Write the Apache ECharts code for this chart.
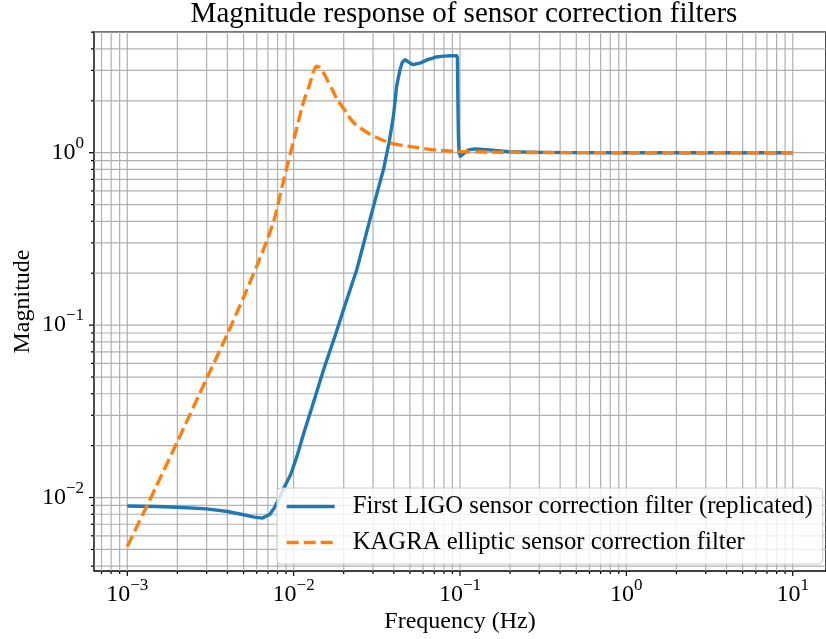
<!DOCTYPE html>
<html>
<head>
<meta charset="utf-8">
<script src="https://cdn.jsdelivr.net/npm/echarts@6/dist/echarts.min.js"></script>
<style>
  html, body { margin: 0; padding: 0; background: #ffffff; }
  #chart { width: 826px; height: 639px; }
</style>
</head>
<body>
<div id="chart"></div>
<script>
// First LIGO sensor correction filter (replicated): frequency (Hz) and magnitude
const ligoFreq = [
  0.001, 0.0015, 0.002, 0.003, 0.004, 0.005, 0.0058, 0.0065, 0.0072, 0.0077,
  0.0082, 0.0088, 0.0096, 0.0105, 0.0115, 0.013, 0.0152, 0.018, 0.020, 0.024,
  0.0288, 0.0331, 0.0347, 0.0375, 0.0398, 0.0416, 0.0436, 0.045, 0.0467, 0.049,
  0.0522, 0.058, 0.0635, 0.0687, 0.0719, 0.08, 0.088, 0.0955, 0.0965, 0.097,
  0.0978, 0.0988, 0.1005, 0.1028, 0.107, 0.112, 0.119, 0.1245, 0.15, 0.196,
  0.3, 0.5, 1, 2, 5, 10
];
const ligoMag = [
  0.00894, 0.00888, 0.00879, 0.0086, 0.0083, 0.00795, 0.0077, 0.0076, 0.0080, 0.0088,
  0.0100, 0.0115, 0.0136, 0.0175, 0.0236, 0.0343, 0.0559, 0.0904, 0.124, 0.211,
  0.412, 0.68, 0.80, 1.15, 1.63, 2.43, 3.03, 3.35, 3.46, 3.36,
  3.24, 3.32, 3.46, 3.54, 3.59, 3.63, 3.65, 3.65, 3.55, 2.2,
  1.25, 1.0, 0.955, 0.955, 1.0, 1.035, 1.048, 1.052, 1.038, 1.013,
  1.004, 1.001, 1.0, 1.0, 1.0, 1.0
];

// KAGRA elliptic sensor correction filter: frequency (Hz) and magnitude
const kagraFreq = [
  0.001, 0.0015, 0.002, 0.003, 0.004, 0.005, 0.006, 0.007, 0.0077, 0.0085,
  0.0093, 0.0099, 0.0105, 0.0112, 0.0118, 0.0125, 0.0131, 0.0137, 0.0143, 0.015,
  0.0159, 0.017, 0.0183, 0.020, 0.023, 0.0288, 0.038, 0.052, 0.072, 0.1,
  0.15, 0.2, 0.3, 0.5, 1, 2, 5, 10
];
const kagraMag = [
  0.0052, 0.0117, 0.0211, 0.049, 0.0889, 0.145, 0.22, 0.32, 0.42, 0.63,
  0.89, 1.135, 1.42, 1.82, 2.14, 2.50, 2.92, 3.17, 3.12, 2.95,
  2.65, 2.34, 2.03, 1.80, 1.49, 1.28, 1.14, 1.08, 1.035, 1.016,
  1.008, 1.005, 1.002, 1.001, 1.0, 1.0, 1.0, 1.0
];

// Decade exponents that carry a "10^n" tick label
const xTickPowers = [-3, -2, -1, 0, 1];
const yTickPowers = [-2, -1, 0];

const seriesNames = [
  'First LIGO sensor correction filter (replicated)',
  'KAGRA elliptic sensor correction filter'
];

const FONT = '"Liberation Serif", "DejaVu Serif", serif';
const GRID_COLOR = '#b0b0b0';
const LINE_W = 3.4;
const X_MIN = Math.pow(10, -3.2), X_MAX = Math.pow(10, 1.2);
const Y_MIN = Math.pow(10, -2.426), Y_MAX = Math.pow(10, 0.70);

// Log-axis grid positions: 1..9 x 10^k inside [lo, hi]
function logGrid(lo, hi, labelled) {
  const out = [];
  const k0 = Math.floor(Math.log10(lo)), k1 = Math.ceil(Math.log10(hi));
  for (let k = k0; k <= k1; k++) {
    for (let m = 1; m <= 9; m++) {
      const v = m * Math.pow(10, k);
      if (v > lo * 1.0001 && v < hi * 0.9999) {
        const lab = m === 1 && labelled.indexOf(k) >= 0;
        out.push({ v: v, major: m === 1, label: lab, exp: k });
      }
    }
  }
  return out;
}
const xGrid = logGrid(X_MIN, X_MAX, xTickPowers);
const yGrid = logGrid(Y_MIN, Y_MAX, yTickPowers);

function powText(e) {
  return '{b|10}{s|' + (e < 0 ? '\u2212' + (-e) : String(e)) + '}';
}
const powRich = {
  b: { fontFamily: FONT, fontSize: 24, lineHeight: 30, verticalAlign: 'bottom', fill: '#000' },
  s: { fontFamily: FONT, fontSize: 17, lineHeight: 17, verticalAlign: 'top', fill: '#000' }
};

function toPairs(xs, ys) { return xs.map((x, i) => [x, ys[i]]); }

const chart = echarts.init(document.getElementById('chart'), null, { renderer: 'canvas' });

chart.setOption({
  animation: false,
  backgroundColor: '#ffffff',
  title: {
    text: 'Magnitude response of sensor correction filters',
    left: 464, top: 0, padding: 0, textAlign: 'center',
    textStyle: { fontFamily: FONT, fontSize: 29, fontWeight: 'normal', color: '#000' }
  },
  grid: {
    left: 94, right: -9, top: 32, bottom: 66,
    show: true, borderColor: '#000', borderWidth: 1.4, backgroundColor: 'transparent'
  },
  legend: {
    orient: 'vertical', left: 277, top: 488,
    padding: [6, 10, 9, 8], itemGap: 11, itemWidth: 48, itemHeight: 14,
    backgroundColor: 'rgba(255,255,255,0.8)', borderColor: '#cccccc', borderWidth: 1, borderRadius: 4,
    itemStyle: { color: 'rgba(0,0,0,0)', borderColor: 'rgba(0,0,0,0)', borderWidth: 0 },
    lineStyle: { width: LINE_W },
    textStyle: { fontFamily: FONT, fontSize: 24.7, color: '#000', padding: [0, 0, 0, 13] },
    data: seriesNames
  },
  xAxis: {
    type: 'log', min: X_MIN, max: X_MAX,
    name: 'Frequency (Hz)', nameLocation: 'middle', nameGap: 39,
    nameTextStyle: { fontFamily: FONT, fontSize: 24, color: '#000' },
    axisLine: { show: false }, axisTick: { show: false },
    axisLabel: { show: false }, splitLine: { show: false }
  },
  yAxis: {
    type: 'log', min: Y_MIN, max: Y_MAX,
    name: 'Magnitude', nameLocation: 'middle', nameGap: 59, nameRotate: 90,
    nameTextStyle: { fontFamily: FONT, fontSize: 24, color: '#000' },
    axisLine: { show: false }, axisTick: { show: false },
    axisLabel: { show: false }, splitLine: { show: false }
  },
  series: [
    {
      // vertical grid lines, bottom ticks and frequency labels
      type: 'custom', silent: true, clip: false, z: 1,
      data: xGrid.map(g => [g.v, Y_MIN, g.major ? 1 : 0, g.label ? 1 : 0, g.exp]),
      encode: { x: 0, y: 1 },
      renderItem: function (params, api) {
        const v = api.value(0), major = api.value(2), lab = api.value(3);
        const b = api.coord([v, Y_MIN]), t = api.coord([v, Y_MAX]);
        const children = [
          { type: 'line', shape: { x1: b[0], y1: b[1], x2: t[0], y2: t[1] },
            style: { stroke: GRID_COLOR, lineWidth: 1.2 } },
          { type: 'line', shape: { x1: b[0], y1: b[1], x2: b[0], y2: b[1] + (major ? 5 : 3) },
            style: { stroke: '#000', lineWidth: 1.2 } }
        ];
        if (lab) {
          children.push({ type: 'text', x: b[0], y: b[1] + 6,
            style: { text: powText(api.value(4)), rich: powRich, align: 'center', verticalAlign: 'top',
              fontFamily: FONT, fontSize: 24, fill: '#000' } });
        }
        return { type: 'group', children: children };
      }
    },
    {
      // horizontal grid lines, left ticks and magnitude labels
      type: 'custom', silent: true, clip: false, z: 1,
      data: yGrid.map(g => [X_MIN, g.v, g.major ? 1 : 0, g.label ? 1 : 0, g.exp]),
      encode: { x: 0, y: 1 },
      renderItem: function (params, api) {
        const v = api.value(1), major = api.value(2), lab = api.value(3);
        const l = api.coord([X_MIN, v]), r = api.coord([X_MAX, v]);
        const children = [
          { type: 'line', shape: { x1: l[0], y1: l[1], x2: r[0], y2: r[1] },
            style: { stroke: GRID_COLOR, lineWidth: 1.2 } },
          { type: 'line', shape: { x1: l[0], y1: l[1], x2: l[0] - (major ? 5 : 3), y2: l[1] },
            style: { stroke: '#000', lineWidth: 1.2 } }
        ];
        if (lab) {
          children.push({ type: 'text', x: l[0] - 10, y: l[1] - 3,
            style: { text: powText(api.value(4)), rich: powRich, align: 'right', verticalAlign: 'middle',
              fontFamily: FONT, fontSize: 24, fill: '#000' } });
        }
        return { type: 'group', children: children };
      }
    },
    {
      name: seriesNames[0], type: 'line', z: 3,
      data: toPairs(ligoFreq, ligoMag),
      symbol: 'none', showSymbol: false,
      lineStyle: { color: '#1f77b4', width: LINE_W, join: 'round' },
      itemStyle: { color: '#1f77b4' }
    },
    {
      name: seriesNames[1], type: 'line', z: 4,
      data: toPairs(kagraFreq, kagraMag),
      symbol: 'none', showSymbol: false, smooth: 0.25,
      lineStyle: { color: '#ff7f0e', width: LINE_W, type: [12, 5] },
      itemStyle: { color: '#ff7f0e' }
    }
  ]
});
</script>
</body>
</html>
